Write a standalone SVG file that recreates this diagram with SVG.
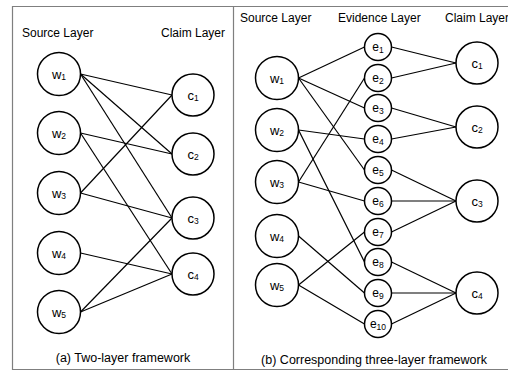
<svg xmlns="http://www.w3.org/2000/svg" width="508" height="371" viewBox="0 0 508 371">
<style>
.frame{fill:none;stroke:#7f7f7f;stroke-width:1.2}
.node circle{fill:#fff;stroke:#000;stroke-width:1.5}
.edges line{stroke:#000;stroke-width:1.2}
text{font-family:"Liberation Sans",Arial,sans-serif;fill:#000}
.title{font-size:12px}
.cap{font-size:12.5px}
.lbl{font-size:13px;text-anchor:middle;dominant-baseline:central}
.elbl{font-size:12px;text-anchor:middle;dominant-baseline:central}
.sub{font-size:8.5px}
</style>
<rect width="508" height="371" fill="#fff"/>
<g class="frame">
<polyline points="508,6.5 12.5,6.5 12.5,369.5 508,369.5"/>
<line x1="233.5" y1="6.5" x2="233.5" y2="369.5"/>
</g>
<!-- Panel (a) -->
<text class="title" x="22" y="37">Source Layer</text>
<text class="title" x="161" y="37">Claim Layer</text>
<text class="cap" x="123" y="362" text-anchor="middle">(a) Two-layer framework</text>
<g class="edges" id="edges-a">
<line x1="80.5" y1="74" x2="172" y2="95"/>
<line x1="80.5" y1="74" x2="172" y2="154"/>
<line x1="80.5" y1="74" x2="172" y2="218"/>
<line x1="80.5" y1="133" x2="172" y2="154"/>
<line x1="80.5" y1="133" x2="172" y2="274"/>
<line x1="80.5" y1="193" x2="172" y2="95"/>
<line x1="80.5" y1="193" x2="172" y2="218"/>
<line x1="80.5" y1="253" x2="172" y2="274"/>
<line x1="80.5" y1="312" x2="172" y2="218"/>
<line x1="80.5" y1="312" x2="172" y2="274"/>
</g>
<g class="node" id="a-w1"><circle cx="59" cy="74" r="21.5"/><text class="lbl" x="59" y="74">w<tspan class="sub" dy="3">1</tspan></text></g>
<g class="node" id="a-w2"><circle cx="59" cy="133" r="21.5"/><text class="lbl" x="59" y="133">w<tspan class="sub" dy="3">2</tspan></text></g>
<g class="node" id="a-w3"><circle cx="59" cy="193" r="21.5"/><text class="lbl" x="59" y="193">w<tspan class="sub" dy="3">3</tspan></text></g>
<g class="node" id="a-w4"><circle cx="59" cy="253" r="21.5"/><text class="lbl" x="59" y="253">w<tspan class="sub" dy="3">4</tspan></text></g>
<g class="node" id="a-w5"><circle cx="59" cy="312" r="21.5"/><text class="lbl" x="59" y="312">w<tspan class="sub" dy="3">5</tspan></text></g>
<g class="node" id="a-c1"><circle cx="193" cy="95" r="21"/><text class="lbl" x="193" y="95">c<tspan class="sub" dy="3">1</tspan></text></g>
<g class="node" id="a-c2"><circle cx="193" cy="154" r="21"/><text class="lbl" x="193" y="154">c<tspan class="sub" dy="3">2</tspan></text></g>
<g class="node" id="a-c3"><circle cx="193" cy="218" r="21"/><text class="lbl" x="193" y="218">c<tspan class="sub" dy="3">3</tspan></text></g>
<g class="node" id="a-c4"><circle cx="193" cy="274" r="21"/><text class="lbl" x="193" y="274">c<tspan class="sub" dy="3">4</tspan></text></g>
<!-- Panel (b) -->
<text class="title" x="240" y="22">Source Layer</text>
<text class="title" x="338" y="22">Evidence Layer</text>
<text class="title" x="445" y="22">Claim Layer</text>
<text class="cap" x="374" y="364" text-anchor="middle">(b) Corresponding three-layer framework</text>
<g class="edges" id="edges-b">
<line x1="298.5" y1="78" x2="364.5" y2="47"/>
<line x1="298.5" y1="78" x2="364.5" y2="108"/>
<line x1="298.5" y1="78" x2="364.5" y2="170"/>
<line x1="298.5" y1="130" x2="364.5" y2="139"/>
<line x1="298.5" y1="130" x2="364.5" y2="262"/>
<line x1="298.5" y1="182" x2="364.5" y2="78"/>
<line x1="298.5" y1="182" x2="364.5" y2="201"/>
<line x1="298.5" y1="236" x2="364.5" y2="293"/>
<line x1="298.5" y1="285" x2="364.5" y2="232"/>
<line x1="298.5" y1="285" x2="364.5" y2="324"/>
<line x1="391.5" y1="47" x2="456" y2="63"/>
<line x1="391.5" y1="78" x2="456" y2="63"/>
<line x1="391.5" y1="108" x2="456" y2="127"/>
<line x1="391.5" y1="139" x2="456" y2="127"/>
<line x1="391.5" y1="170" x2="456" y2="201"/>
<line x1="391.5" y1="201" x2="456" y2="201"/>
<line x1="391.5" y1="232" x2="456" y2="201"/>
<line x1="391.5" y1="262" x2="456" y2="293"/>
<line x1="391.5" y1="293" x2="456" y2="293"/>
<line x1="391.5" y1="324" x2="456" y2="293"/>
</g>
<g class="node" id="b-w1"><circle cx="277" cy="78" r="21.5"/><text class="lbl" x="277" y="78">w<tspan class="sub" dy="3">1</tspan></text></g>
<g class="node" id="b-w2"><circle cx="277" cy="130" r="21.5"/><text class="lbl" x="277" y="130">w<tspan class="sub" dy="3">2</tspan></text></g>
<g class="node" id="b-w3"><circle cx="277" cy="182" r="21.5"/><text class="lbl" x="277" y="182">w<tspan class="sub" dy="3">3</tspan></text></g>
<g class="node" id="b-w4"><circle cx="277" cy="236" r="21.5"/><text class="lbl" x="277" y="236">w<tspan class="sub" dy="3">4</tspan></text></g>
<g class="node" id="b-w5"><circle cx="277" cy="285" r="21.5"/><text class="lbl" x="277" y="285">w<tspan class="sub" dy="3">5</tspan></text></g>
<g class="node" id="b-e1"><circle cx="378" cy="47" r="13.5"/><text class="elbl" x="378" y="47">e<tspan class="sub" dy="3">1</tspan></text></g>
<g class="node" id="b-e2"><circle cx="378" cy="78" r="13.5"/><text class="elbl" x="378" y="78">e<tspan class="sub" dy="3">2</tspan></text></g>
<g class="node" id="b-e3"><circle cx="378" cy="108" r="13.5"/><text class="elbl" x="378" y="108">e<tspan class="sub" dy="3">3</tspan></text></g>
<g class="node" id="b-e4"><circle cx="378" cy="139" r="13.5"/><text class="elbl" x="378" y="139">e<tspan class="sub" dy="3">4</tspan></text></g>
<g class="node" id="b-e5"><circle cx="378" cy="170" r="13.5"/><text class="elbl" x="378" y="170">e<tspan class="sub" dy="3">5</tspan></text></g>
<g class="node" id="b-e6"><circle cx="378" cy="201" r="13.5"/><text class="elbl" x="378" y="201">e<tspan class="sub" dy="3">6</tspan></text></g>
<g class="node" id="b-e7"><circle cx="378" cy="232" r="13.5"/><text class="elbl" x="378" y="232">e<tspan class="sub" dy="3">7</tspan></text></g>
<g class="node" id="b-e8"><circle cx="378" cy="262" r="13.5"/><text class="elbl" x="378" y="262">e<tspan class="sub" dy="3">8</tspan></text></g>
<g class="node" id="b-e9"><circle cx="378" cy="293" r="13.5"/><text class="elbl" x="378" y="293">e<tspan class="sub" dy="3">9</tspan></text></g>
<g class="node" id="b-e10"><circle cx="378" cy="324" r="13.5"/><text class="elbl" x="378" y="324">e<tspan class="sub" dy="3">10</tspan></text></g>
<g class="node" id="b-c1"><circle cx="477" cy="63" r="21"/><text class="lbl" x="477" y="63">c<tspan class="sub" dy="3">1</tspan></text></g>
<g class="node" id="b-c2"><circle cx="477" cy="127" r="21"/><text class="lbl" x="477" y="127">c<tspan class="sub" dy="3">2</tspan></text></g>
<g class="node" id="b-c3"><circle cx="477" cy="201" r="21"/><text class="lbl" x="477" y="201">c<tspan class="sub" dy="3">3</tspan></text></g>
<g class="node" id="b-c4"><circle cx="477" cy="293" r="21"/><text class="lbl" x="477" y="293">c<tspan class="sub" dy="3">4</tspan></text></g>
</svg>
